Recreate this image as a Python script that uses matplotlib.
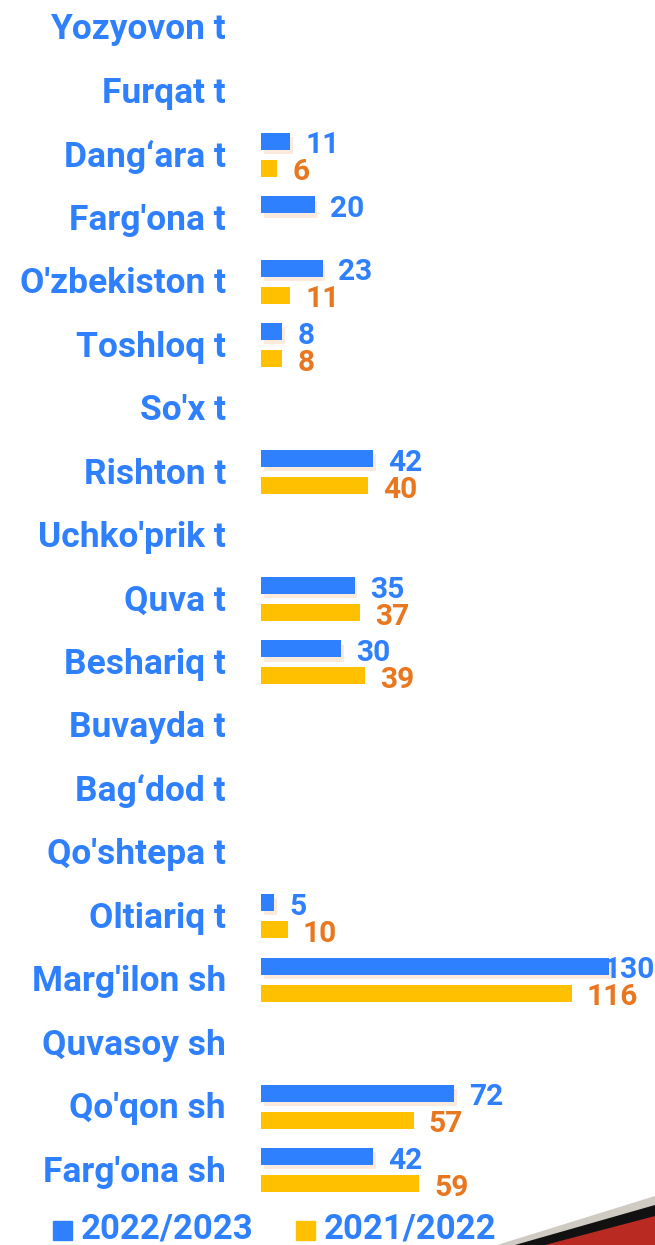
import numpy as np
import matplotlib
matplotlib.use('Agg')
import matplotlib.pyplot as plt
import matplotlib.patheffects as pe
from matplotlib.patches import Polygon, Rectangle

# dane
categories = ["Yozyovon t", "Furqat t", "Dang\u2018ara t", "Farg'ona t", "O'zbekiston t",
              "Toshloq t", "So'x t", "Rishton t", "Uchko'prik t", "Quva t", "Beshariq t",
              "Buvayda t", "Bag\u2018dod t", "Qo'shtepa t", "Oltiariq t", "Marg'ilon sh",
              "Quvasoy sh", "Qo'qon sh", "Farg'ona sh"]
v_2022_2023 = [None, None, 11, 20, 23, 8, None, 42, None, 35, 30, None, None, None, 5, 130, None, 72, 42]
v_2021_2022 = [None, None, 6, None, 11, 8, None, 40, None, 37, 39, None, None, None, 10, 116, None, 57, 59]
series_names = ["2022/2023", "2021/2022"]

BLUE = '#2F80FF'
YELLOW = '#FFC000'
ORANGE = '#E8771F'
FONT = 'Roboto'

W, H = 655, 1245
fig = plt.figure(figsize=(W / 100, H / 100), dpi=100)

# osie: 0 na x=261 px, 2.677 px na jednostke; wiersze co 63.45 px od y=28
x0_px, scale = 261, 2.677
row0, step = 28, 63.45
ax = fig.add_axes([x0_px / W, 0, 1 - x0_px / W, 1])
ax.set_xlim(0, (W - x0_px) / scale)
ax.set_ylim((H - row0) / step, -row0 / step)
ax.axis('off')

y = np.arange(len(categories))
off = 13.5 / step
bh = 17 / step
a = np.array([np.nan if v is None else v for v in v_2022_2023], dtype=float)
b = np.array([np.nan if v is None else v for v in v_2021_2022], dtype=float)

shadow = [pe.SimplePatchShadow(offset=(2, -3), shadow_rgbFace='#FBDCC6', alpha=0.6), pe.Normal()]
bars1 = ax.barh(y - off, np.nan_to_num(a), height=bh, color=BLUE)
bars2 = ax.barh(y + off, np.nan_to_num(b), height=bh, color=YELLOW)
for bar in bars1:
    bar.set_path_effects(shadow)

xmax = ax.get_xlim()[1]
gap = 15 / scale
dy = 4 / step
for vals, yy, col in [(a, y - off, BLUE), (b, y + off, ORANGE)]:
    for v, yi in zip(vals, yy):
        if np.isnan(v):
            continue
        if v + gap + 15 > xmax:
            ax.text(xmax, yi + dy, f"{int(v)}", ha='right', va='center', color=col,
                    fontsize=21.5, fontweight='bold', family=FONT)
        else:
            ax.text(v + gap, yi + dy, f"{int(v)}", ha='left', va='center', color=col,
                    fontsize=21.5, fontweight='bold', family=FONT)

# etykiety kategorii
for i, c in enumerate(categories):
    fig.text(226 / W, 1 - (row0 + 2 + step * i) / H, c, ha='right', va='center', color=BLUE,
             fontsize=25.5, fontweight='bold', family=FONT)

# legenda
ly = 1 - 1229 / H
fig.patches.append(Rectangle((53 / W, 1 - 1240 / H), 19 / W, 19 / H,
                             transform=fig.transFigure, color=BLUE))
fig.text(81 / W, ly, series_names[0], ha='left', va='center', color=BLUE,
         fontsize=25, fontweight='bold', family=FONT)
fig.patches.append(Rectangle((296 / W, 1 - 1240 / H), 19 / W, 19 / H,
                             transform=fig.transFigure, color=YELLOW))
fig.text(324 / W, ly, series_names[1], ha='left', va='center', color=BLUE,
         fontsize=25, fontweight='bold', family=FONT)

# ozdoba w prawym dolnym rogu
def px(pts):
    return [(xx / W, 1 - yy / H) for xx, yy in pts]

fig.patches.append(Polygon(px([(497, 1245), (655, 1196), (655, 1245)]), closed=True,
                           transform=fig.transFigure, facecolor='#CFCBC2', edgecolor='none'))
fig.patches.append(Polygon(px([(515, 1245), (655, 1205), (655, 1245)]), closed=True,
                           transform=fig.transFigure, facecolor='#111111', edgecolor='none'))
fig.patches.append(Polygon(px([(545, 1245), (655, 1216), (655, 1245)]), closed=True,
                           transform=fig.transFigure, facecolor='#B82A22', edgecolor='none'))

fig.savefig('out.png', dpi=100)
